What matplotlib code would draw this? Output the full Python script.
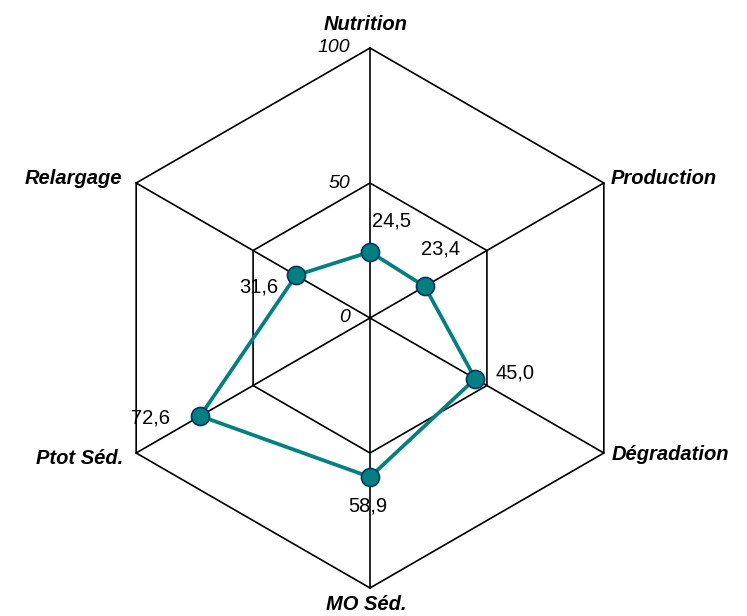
import numpy as np
import matplotlib
matplotlib.use("Agg")
import matplotlib.pyplot as plt

plt.rcParams['font.family'] = ['Liberation Sans', 'DejaVu Sans']

# data
categories = ["Nutrition", "Production", "Dégradation", "MO Séd.", "Ptot Séd.", "Relargage"]
values = [24.5, 23.4, 45.0, 58.9, 72.6, 31.6]
value_labels = ["24,5", "23,4", "45,0", "58,9", "72,6", "31,6"]
ring_levels = [50, 100]
tick_levels = [0, 50, 100]

n = len(categories)
angles = np.arange(n) * 2 * np.pi / n   # clockwise from top


def to_xy(r, a):
    return r * np.sin(a), r * np.cos(a)


fig = plt.figure(figsize=(7.47, 6.16), dpi=100)
ax = fig.add_axes([0, 0, 1, 1])
# 100 units = 270 px, centre at (370, 318) px from top-left
s = 2.7
ax.set_xlim(-370 / s, (747 - 370) / s)
ax.set_ylim(-(616 - 318) / s, 318 / s)
ax.axis('off')

grid_kw = dict(color='black', lw=1.2, zorder=1, solid_joinstyle='miter')

# hexagon rings
for lev in ring_levels:
    a_closed = np.append(angles, angles[0])
    x, y = to_xy(lev, a_closed)
    ax.plot(x, y, **grid_kw)

# spokes
for a in angles:
    x, y = to_xy(np.array([0, 100]), a)
    ax.plot(x, y, **grid_kw)

# data series
vx, vy = to_xy(np.array(values), angles)
ax.plot(np.append(vx, vx[0]), np.append(vy, vy[0]), color='#008080', lw=2.7, zorder=2)
ax.plot(vx, vy, 'o', ms=13, mfc='#008080', mec='#003366', mew=1.2, zorder=3)

# scale labels
for lev in tick_levels:
    ax.annotate(str(lev), to_xy(lev, 0), xytext=(-20, 0), textcoords='offset pixels',
                ha='right', va='center', fontsize=14, style='italic')

# category labels
cat_offsets = [(-4, 24), (7, 5), (8, -2), (-4, -17), (-13, -5), (-14, 5)]
cat_ha = ['center', 'left', 'left', 'center', 'right', 'right']
for cat, a, off, ha in zip(categories, angles, cat_offsets, cat_ha):
    ax.annotate(cat, to_xy(100, a), xytext=off, textcoords='offset pixels',
                ha=ha, va='center', fontsize=14.5, fontweight='bold', style='italic')

# value labels
val_offsets = [(2, 31), (-4, 37), (20, 6), (-2, -29), (-30, -2), (-18, -12)]
val_ha = ['left', 'left', 'left', 'center', 'right', 'right']
for lab, x, y, off, ha in zip(value_labels, vx, vy, val_offsets, val_ha):
    ax.annotate(lab, (x, y), xytext=off, textcoords='offset pixels',
                ha=ha, va='center', fontsize=14.5)

fig.savefig("out.png", dpi=100)
